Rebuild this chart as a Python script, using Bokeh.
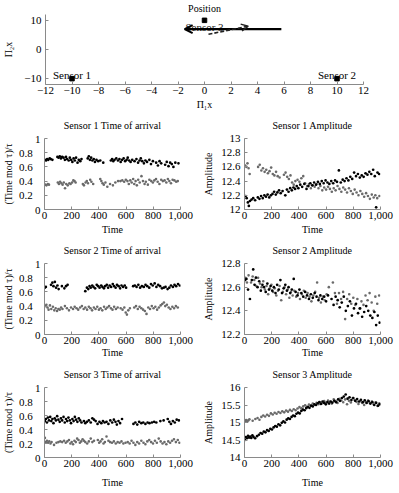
from bokeh.plotting import figure
from bokeh.layouts import column, row
from bokeh.models import FixedTicker, NumeralTickFormatter, Arrow, OpenHead, Range1d, Title
from bokeh.core.properties import value
from bokeh.embed import file_html
from bokeh.resources import INLINE

FONT = "Times"
FS = "11px"        # tick labels and in-plot annotations
FS_LABEL = "10px"  # panel headings and axis titles
AXIS_GRAY = "#8a8a8a"
DARK = "#000000"
GRAY = "#6a6a6a"

# ---------------- sensor geometry and trajectory ----------------
sensor_x = [-10, 10, 0]
sensor_y = [-10, -10, 10]
sensor_names = ["Sensor 1", "Sensor 2", "Sensor 3"]
true_path_x = [5.8, -1.5]
true_path_y = [7.0, 7.0]
est_path_x = [0.3, 3.3]
est_path_y = [5.2, 8.0]

pos_xticks = [-12, -10, -8, -6, -4, -2, 0, 2, 4, 6, 8, 10, 12]
pos_yticks = [-10, 0, 10]
time_ticks = [0, 200, 400, 600, 800, 1000]
toa_ticks = [0, 0.2, 0.4, 0.6, 0.8, 1]
toa_tick_labels = ["0", "0.2", "0.4", "0.6", "0.8", "1"]
amp1_ticks = [12, 12.2, 12.4, 12.6, 12.8, 13]
amp2_ticks = [12.2, 12.4, 12.6, 12.8]
amp3_ticks = [14, 14.5, 15, 15.5, 16]

# ---------------- Sensor 1 ----------------
s1_toa_a = [(3,0.70),(12,0.69),(20,0.71),(28,0.70),(38,0.72),(46,0.71),(58,0.70),(95,0.74),(104,0.73),(112,0.75),
            (121,0.72),(130,0.74),(140,0.73),(150,0.70),(158,0.74),(166,0.71),(178,0.69),(186,0.73),(196,0.70),(205,0.67),
            (214,0.72),(223,0.69),(232,0.73),(243,0.66),(252,0.70),(263,0.68),(272,0.71),(318,0.72),(326,0.75),(334,0.70),
            (343,0.73),(352,0.69),(362,0.71),(371,0.67),(382,0.70),(395,0.68),(410,0.69),(432,0.66),(488,0.69),(497,0.71),
            (506,0.68),(515,0.70),(528,0.72),(540,0.69),(551,0.71),(560,0.67),(571,0.70),(582,0.72),(593,0.68),(604,0.70),
            (612,0.73),(622,0.69),(633,0.67),(645,0.70),(662,0.68),(676,0.71),(688,0.66),(699,0.69),(708,0.72),(719,0.68),
            (731,0.65),(742,0.69),(754,0.67),(771,0.70),(783,0.64),(797,0.68),(821,0.66),(834,0.62),(846,0.68),(858,0.65),
            (887,0.63),(899,0.67),(912,0.61),(924,0.66),(936,0.64),(948,0.60),(962,0.66),(985,0.65)]
s1_toa_b = [(5,0.35),(14,0.34),(24,0.36),(33,0.35),(98,0.38),(106,0.36),(115,0.39),(124,0.37),(133,0.35),(142,0.38),
            (151,0.30),(160,0.36),(171,0.34),(183,0.37),(192,0.36),(203,0.38),(212,0.41),(221,0.40),(229,0.38),(282,0.36),
            (290,0.34),(302,0.38),(311,0.40),(320,0.37),(336,0.42),(345,0.39),(358,0.36),(410,0.43),(418,0.40),(427,0.37),
            (436,0.35),(448,0.38),(462,0.32),(482,0.36),(503,0.34),(521,0.38),(541,0.40),(558,0.40),(572,0.41),(586,0.39),
            (598,0.42),(610,0.40),(620,0.36),(631,0.41),(641,0.38),(652,0.43),(660,0.36),(670,0.40),(679,0.34),(689,0.42),
            (700,0.38),(713,0.47),(724,0.40),(736,0.36),(745,0.39),(760,0.35),(771,0.42),(785,0.40),(797,0.38),(808,0.41),
            (820,0.43),(832,0.39),(845,0.36),(858,0.42),(870,0.40),(883,0.41),(896,0.38),(907,0.43),(918,0.40),(930,0.37),
            (942,0.42),(955,0.41),(968,0.39),(980,0.40)]
s1_amp_a = [(8,12.19),(16,12.16),(25,12.10),(32,12.05),(40,12.12),(52,12.14),(64,12.16),(78,12.13),(98,12.17),(110,12.15),
            (122,12.19),(134,12.16),(146,12.20),(158,12.18),(170,12.21),(182,12.17),(194,12.20),(206,12.22),(218,12.25),(230,12.21),
            (242,12.24),(254,12.27),(266,12.23),(280,12.26),(300,12.20),(312,12.28),(324,12.25),(336,12.30),(348,12.27),(360,12.31),
            (372,12.29),(384,12.33),(396,12.30),(410,12.35),(424,12.32),(440,12.36),(456,12.29),(470,12.33),(484,12.37),(498,12.34),
            (512,12.38),(526,12.35),(540,12.39),(554,12.36),(568,12.40),(582,12.37),(596,12.41),(610,12.38),(624,12.36),(638,12.40),
            (652,12.37),(666,12.41),(680,12.39),(694,12.55),(708,12.38),(722,12.42),(736,12.40),(750,12.44),(764,12.41),(778,12.46),
            (792,12.43),(806,12.52),(820,12.47),(834,12.50),(848,12.45),(862,12.48),(876,12.46),(890,12.51),(904,12.49),(918,12.53),
            (932,12.50),(946,12.56),(958,12.47),(968,12.03),(978,12.52),(990,12.50)]
s1_amp_b = [(5,12.62),(14,12.60),(22,12.65),(30,12.58),(38,12.50),(100,12.60),(112,12.63),(124,12.55),(136,12.58),(148,12.53),
            (160,12.56),(172,12.51),(184,12.54),(196,12.59),(208,12.50),(220,12.48),(232,12.53),(244,12.47),(258,12.45),(290,12.49),
            (302,12.52),(314,12.46),(326,12.43),(338,12.48),(350,12.38),(362,12.35),(374,12.40),(390,12.42),(404,12.39),(418,12.44),
            (432,12.47),(446,12.37),(460,12.33),(474,12.36),(488,12.30),(502,12.34),(516,12.32),(530,12.36),(544,12.30),(558,12.33),
            (572,12.27),(586,12.31),(600,12.28),(614,12.32),(628,12.29),(642,12.25),(656,12.30),(670,12.27),(684,12.33),(698,12.29),
            (712,12.25),(726,12.31),(740,12.28),(754,12.24),(768,12.30),(782,12.26),(796,12.22),(810,12.28),(824,12.24),(838,12.20),
            (852,12.26),(866,12.22),(880,12.18),(894,12.23),(908,12.19),(922,12.15),(936,12.21),(950,12.17),(962,12.20),(976,12.16),
            (992,12.19)]

# ---------------- Sensor 2 ----------------
s2_toa_a = [(2,0.66),(10,0.67),(48,0.70),(58,0.73),(66,0.68),(76,0.74),(85,0.66),(95,0.69),(104,0.64),(128,0.68),
            (146,0.65),(158,0.68),(170,0.70),(300,0.61),(312,0.66),(322,0.64),(331,0.68),(340,0.66),(351,0.69),(360,0.67),
            (372,0.65),(384,0.70),(395,0.68),(405,0.66),(417,0.69),(426,0.67),(437,0.65),(446,0.68),(458,0.70),(468,0.66),
            (479,0.69),(490,0.67),(502,0.71),(512,0.68),(523,0.66),(533,0.70),(545,0.68),(556,0.65),(566,0.69),(578,0.67),
            (590,0.69),(600,0.66),(652,0.68),(664,0.69),(677,0.67),(690,0.70),(703,0.66),(716,0.68),(730,0.67),(743,0.70),
            (756,0.68),(770,0.66),(783,0.71),(796,0.69),(810,0.72),(823,0.67),(836,0.70),(850,0.68),(864,0.65),(877,0.66),
            (890,0.67),(905,0.64),(918,0.66),(930,0.69),(944,0.67),(956,0.70),(968,0.68),(982,0.71),(995,0.69)]
s2_toa_b = [(5,0.40),(14,0.42),(22,0.38),(30,0.35),(40,0.41),(50,0.36),(62,0.39),(72,0.34),(82,0.37),(92,0.33),
            (102,0.36),(112,0.35),(122,0.38),(132,0.36),(150,0.40),(165,0.37),(180,0.34),(195,0.38),(210,0.36),(222,0.39),
            (236,0.37),(248,0.35),(262,0.38),(275,0.40),(288,0.36),(300,0.38),(313,0.35),(326,0.39),(338,0.37),(350,0.34),
            (363,0.38),(375,0.36),(388,0.39),(400,0.35),(412,0.37),(425,0.34),(438,0.39),(450,0.36),(462,0.38),(475,0.40),
            (488,0.37),(500,0.35),(512,0.39),(525,0.36),(538,0.38),(560,0.37),(574,0.35),(587,0.38),(597,0.31),(606,0.28),
            (616,0.34),(628,0.37),(660,0.38),(673,0.40),(686,0.36),(699,0.39),(712,0.37),(725,0.35),(738,0.33),(750,0.29),
            (763,0.38),(776,0.36),(789,0.40),(802,0.37),(815,0.39),(828,0.35),(841,0.38),(854,0.41),(866,0.43),(878,0.45),
            (888,0.40),(900,0.42),(913,0.38),(926,0.36),(940,0.39),(953,0.37),(966,0.40),(980,0.38)]
s2_amp_a = [(4,12.66),(14,12.67),(26,12.58),(40,12.50),(54,12.66),(64,12.75),(74,12.62),(84,12.68),(96,12.60),(108,12.65),
            (120,12.57),(132,12.62),(144,12.60),(156,12.56),(168,12.63),(180,12.58),(192,12.61),(204,12.57),(216,12.60),(228,12.55),
            (240,12.62),(252,12.58),(264,12.66),(276,12.55),(288,12.59),(300,12.62),(312,12.57),(324,12.60),(336,12.55),(348,12.58),
            (362,12.67),(376,12.56),(390,12.53),(404,12.58),(418,12.55),(432,12.52),(446,12.56),(460,12.53),(474,12.50),(488,12.54),
            (502,12.51),(516,12.55),(530,12.52),(544,12.49),(558,12.53),(572,12.50),(586,12.52),(600,12.48),(614,12.53),(640,12.50),
            (655,12.45),(670,12.52),(685,12.49),(700,12.43),(715,12.47),(730,12.52),(745,12.40),(760,12.44),(775,12.48),(790,12.36),
            (805,12.42),(820,12.46),(835,12.38),(850,12.42),(865,12.35),(880,12.39),(895,12.44),(910,12.40),(925,12.36),(940,12.34),
            (955,12.39),(968,12.28),(980,12.36),(994,12.30)]
s2_amp_b = [(6,12.68),(18,12.64),(30,12.70),(48,12.64),(60,12.69),(72,12.66),(86,12.61),(100,12.68),(114,12.63),(126,12.60),
            (138,12.65),(150,12.58),(162,12.61),(174,12.54),(186,12.59),(198,12.62),(210,12.56),(222,12.59),(234,12.53),(246,12.57),
            (258,12.61),(270,12.49),(282,12.56),(294,12.60),(306,12.54),(318,12.58),(330,12.51),(342,12.56),(354,12.53),(366,12.57),
            (380,12.52),(394,12.55),(408,12.50),(422,12.54),(436,12.57),(450,12.51),(464,12.55),(478,12.52),(492,12.48),(506,12.53),
            (520,12.56),(534,12.64),(548,12.51),(562,12.47),(576,12.52),(590,12.49),(604,12.54),(620,12.60),(650,12.64),(665,12.55),
            (680,12.46),(695,12.55),(710,12.50),(725,12.56),(740,12.33),(755,12.50),(770,12.54),(785,12.46),(800,12.51),(815,12.45),
            (830,12.50),(845,12.42),(860,12.48),(875,12.45),(890,12.53),(905,12.49),(920,12.55),(935,12.47),(950,12.40),(962,12.52),
            (976,12.46),(990,12.53)]

# ---------------- Sensor 3 ----------------
s3_toa_a = [(3,0.52),(10,0.55),(18,0.50),(25,0.57),(33,0.53),(42,0.58),(50,0.52),(58,0.55),(66,0.49),(75,0.56),
            (84,0.53),(93,0.59),(102,0.54),(112,0.51),(121,0.56),(130,0.53),(140,0.58),(149,0.50),(158,0.55),(167,0.52),
            (176,0.57),(186,0.53),(195,0.49),(205,0.55),(214,0.52),(223,0.58),(232,0.54),(242,0.51),(252,0.56),(262,0.53),
            (272,0.50),(290,0.52),(300,0.49),(312,0.51),(326,0.53),(340,0.50),(352,0.56),(364,0.54),(376,0.52),(390,0.48),
            (404,0.51),(418,0.49),(430,0.52),(442,0.50),(456,0.51),(470,0.48),(484,0.53),(498,0.50),(510,0.54),(522,0.51),
            (532,0.47),(544,0.52),(556,0.49),(570,0.55),(654,0.48),(668,0.50),(682,0.47),(696,0.51),(712,0.49),(726,0.50),
            (742,0.48),(758,0.50),(772,0.49),(790,0.50),(806,0.51),(822,0.50),(852,0.52),(876,0.53),(906,0.55),(918,0.51),
            (930,0.48),(944,0.52),(958,0.50),(972,0.54),(988,0.53)]
s3_toa_b = [(3,0.28),(10,0.22),(18,0.24),(26,0.21),(35,0.23),(44,0.20),(52,0.22),(70,0.18),(88,0.21),(102,0.22),
            (116,0.23),(130,0.22),(144,0.24),(156,0.21),(168,0.23),(180,0.25),(190,0.20),(200,0.22),(210,0.19),(220,0.24),
            (230,0.22),(240,0.27),(250,0.25),(260,0.21),(270,0.23),(280,0.26),(290,0.24),(300,0.22),(314,0.20),(326,0.23),
            (340,0.27),(352,0.22),(364,0.24),(392,0.25),(402,0.21),(412,0.23),(424,0.26),(434,0.20),(444,0.22),(456,0.30),
            (470,0.24),(482,0.22),(496,0.21),(510,0.23),(524,0.20),(538,0.22),(552,0.21),(566,0.23),(580,0.20),(596,0.21),
            (612,0.22),(626,0.20),(640,0.24),(654,0.21),(668,0.18),(682,0.22),(696,0.20),(712,0.24),(728,0.21),(742,0.19),
            (756,0.23),(770,0.25),(784,0.22),(798,0.20),(812,0.24),(826,0.21),(840,0.27),(854,0.23),(868,0.20),(882,0.22),
            (896,0.19),(910,0.23),(924,0.21),(938,0.24),(952,0.26),(966,0.22),(980,0.25),(992,0.21)]
s3_amp_a = [(3,14.50),(10,14.58),(18,14.55),(26,14.62),(34,14.57),(42,14.60),(50,14.56),(58,14.63),(66,14.59),(78,14.55),
            (92,14.61),(106,14.65),(118,14.70),(130,14.68),(142,14.74),(154,14.72),(166,14.78),(178,14.76),(190,14.82),(202,14.80),
            (214,14.86),(226,14.90),(238,14.88),(250,14.95),(262,14.92),(274,14.99),(286,15.03),(298,15.00),(310,15.08),(322,15.12),
            (334,15.10),(346,15.16),(358,15.20),(370,15.18),(382,15.25),(394,15.28),(406,15.26),(418,15.33),(430,15.37),(442,15.35),
            (454,15.41),(466,15.44),(478,15.42),(490,15.48),(502,15.46),(514,15.52),(526,15.50),(538,15.55),(550,15.58),(562,15.53),
            (574,15.60),(586,15.56),(598,15.52),(610,15.58),(622,15.54),(634,15.60),(646,15.57),(660,15.62),(674,15.58),(688,15.66),
            (702,15.62),(716,15.70),(730,15.74),(744,15.80),(758,15.68),(772,15.72),(786,15.64),(800,15.70),(814,15.62),(828,15.67),
            (842,15.60),(856,15.65),(870,15.58),(884,15.63),(898,15.56),(912,15.61),(926,15.54),(940,15.58),(954,15.50),(968,15.56),
            (982,15.48),(994,15.52)]
s3_amp_b = [(4,15.04),(12,15.07),(20,15.02),(28,15.06),(36,15.09),(60,15.05),(80,15.10),(96,15.13),(110,15.08),(124,15.16),
            (138,15.20),(152,15.17),(166,15.22),(180,15.19),(194,15.26),(208,15.23),(222,15.28),(236,15.25),(250,15.30),(264,15.27),
            (278,15.32),(292,15.29),(306,15.34),(320,15.31),(334,15.36),(348,15.33),(362,15.38),(376,15.35),(390,15.40),(404,15.44),
            (418,15.41),(432,15.46),(446,15.49),(460,15.45),(474,15.51),(488,15.48),(502,15.54),(516,15.50),(530,15.56),(544,15.52),
            (558,15.58),(572,15.55),(586,15.61),(600,15.57),(614,15.63),(628,15.59),(642,15.54),(656,15.66),(670,15.61),(684,15.56),
            (698,15.68),(712,15.63),(726,15.58),(740,15.66),(754,15.52),(768,15.62),(782,15.57),(796,15.70),(810,15.64),(824,15.59),
            (838,15.53),(852,15.61),(866,15.56),(880,15.50),(894,15.58),(908,15.63),(922,15.55),(936,15.60),(950,15.52),(964,15.58),
            (978,15.47),(992,15.55)]


def style_axes(p, xticks, yticks, xlabels=None, ylabels=None, xfmt="0,0", yfmt="0.[0]"):
    p.xaxis.ticker = FixedTicker(ticks=xticks)
    p.yaxis.ticker = FixedTicker(ticks=yticks)
    if xlabels is not None:
        p.xaxis.major_label_overrides = xlabels
    else:
        p.xaxis.formatter = NumeralTickFormatter(format=xfmt)
    if ylabels is not None:
        p.yaxis.major_label_overrides = ylabels
    else:
        p.yaxis.formatter = NumeralTickFormatter(format=yfmt)
    for ax in (p.xaxis, p.yaxis):
        ax.axis_line_color = AXIS_GRAY
        ax.axis_line_width = 1
        ax.major_tick_line_color = AXIS_GRAY
        ax.major_tick_in = 3
        ax.major_tick_out = 0
        ax.minor_tick_line_color = None
        ax.major_label_text_font = FONT
        ax.major_label_text_font_size = FS
        ax.major_label_text_font_style = "normal"
        ax.major_label_text_color = "black"
        ax.axis_label_text_font = FONT
        ax.axis_label_text_font_size = FS_LABEL
        ax.axis_label_text_font_style = "normal"
        ax.axis_label_text_color = "black"
    p.xaxis.major_label_standoff = 2
    p.yaxis.major_label_standoff = 4
    p.xgrid.visible = False
    p.ygrid.visible = False
    p.outline_line_color = None


def new_fig(width, height, left, right, top, bottom, xr, yr, title="",
            title_align="top", title_standoff=11):
    heading = Title(text=title, align="center", vertical_align=title_align,
                    text_font=FONT, text_font_size=FS_LABEL, text_font_style="normal",
                    text_color="black", standoff=title_standoff)
    p = figure(width=width, height=height, x_range=Range1d(*xr), y_range=Range1d(*yr),
               output_backend="svg", toolbar_location=None, title=heading,
               min_border_left=left, min_border_right=right,
               min_border_top=top, min_border_bottom=bottom)
    p.background_fill_color = "white"
    p.border_fill_color = "white"
    return p


def unzip(pairs):
    return [a for a, _ in pairs], [b for _, b in pairs]


def minus(t):
    return str(t).replace("-", "\u2212")


# ---------------- Position panel ----------------
pos = new_fig(399, 112, 40, 36, 14, 28, (-12, 12), (-12, 12), title="Position",
              title_align="middle", title_standoff=0)
style_axes(pos, pos_xticks, pos_yticks,
           xlabels={t: minus(t) for t in pos_xticks},
           ylabels={t: minus(t) for t in pos_yticks})
pos.xaxis.axis_label = "\u03a0\u2081x"
pos.xaxis.axis_label_standoff = 2
pos.yaxis.axis_label = "\u03a0\u2082x"
pos.yaxis.axis_label_standoff = 7
pos.scatter(sensor_x, sensor_y, marker="square", size=4.5, color="black")
pos.text(sensor_x[:2], sensor_y[:2], text=sensor_names[:2], text_align="center",
         text_baseline="alphabetic", y_offset=-4, text_font=value(FONT),
         text_font_size=FS, text_color="black")
pos.text(sensor_x[2:], sensor_y[2:], text=sensor_names[2:], text_align="center",
         text_baseline="middle", y_offset=7, text_font=value(FONT),
         text_font_size=FS, text_color="#222222")
pos.add_layout(Arrow(end=OpenHead(size=8, line_width=2, line_color="black"),
                     x_start=true_path_x[0], y_start=true_path_y[0],
                     x_end=true_path_x[1], y_end=true_path_y[1],
                     line_width=2.2, line_color="black"))
pos.add_layout(Arrow(end=OpenHead(size=7, line_width=1.5, line_color="#222222"),
                     x_start=est_path_x[0], y_start=est_path_y[0],
                     x_end=est_path_x[1], y_end=est_path_y[1],
                     line_width=1.6, line_color="#222222", line_dash="4 2"))


def series_panel(width, height, left, right, top, bottom, yr, yticks, a, b,
                 title, ylabel, ylabels=None, ylabel_standoff=4, xlabel_standoff=2):
    p = new_fig(width, height, left, right, top, bottom, (0, 1000), yr, title=title)
    style_axes(p, time_ticks, yticks, ylabels=ylabels)
    p.xaxis.axis_label = "Time"
    p.xaxis.axis_label_standoff = xlabel_standoff
    p.yaxis.axis_label = ylabel
    p.yaxis.axis_label_standoff = ylabel_standoff
    bx, by = unzip(b)
    ax_, ay = unzip(a)
    p.scatter(bx, by, marker="circle", size=2.6, fill_color=GRAY, line_color=None)
    p.scatter(ax_, ay, marker="circle", size=2.7, fill_color=DARK, line_color=None)
    return p


TOA_LABEL = "(Time mod \u03c4)/\u03c4"
# decimal tick labels sit a little further from the axis than the integer ones
toa_labels = {t: (s if "." not in s else s + "\u2007\u2009") for t, s in zip(toa_ticks, toa_tick_labels)}

r1a = series_panel(200, 125, 39, 20, 26, 28, (0, 1), toa_ticks, s1_toa_a, s1_toa_b,
                   "Sensor 1 Time of arrival", TOA_LABEL, ylabels=toa_labels, ylabel_standoff=2)
r1b = series_panel(199, 125, 39, 19, 26, 28, (12, 13), amp1_ticks, s1_amp_a, s1_amp_b,
                   "Sensor 1 Amplitude", "Amplitude")
r2a = series_panel(200, 123, 39, 20, 26, 26, (0, 1), toa_ticks, s2_toa_a, s2_toa_b,
                   "Sensor 2 Time of arrival", TOA_LABEL, ylabels=toa_labels, ylabel_standoff=2,
                   xlabel_standoff=0)
r2b = series_panel(199, 123, 39, 19, 26, 26, (12.2, 12.8), amp2_ticks, s2_amp_a, s2_amp_b,
                   "Sensor 2 Amplitude", "Amplitude", xlabel_standoff=0)
r3a = series_panel(200, 133, 39, 20, 27, 36, (0, 1), toa_ticks, s3_toa_a, s3_toa_b,
                   "Sensor 3 Time of arrival", TOA_LABEL, ylabels=toa_labels, ylabel_standoff=2,
                   xlabel_standoff=7)
r3b = series_panel(199, 133, 39, 19, 27, 36, (14, 16), amp3_ticks, s3_amp_a, s3_amp_b,
                   "Sensor 3 Amplitude", "Amplitude", xlabel_standoff=7)

page = column(pos, row(r1a, r1b), row(r2a, r2b), row(r3a, r3b))

with open("out.html", "w") as f:
    f.write(file_html(page, INLINE))
